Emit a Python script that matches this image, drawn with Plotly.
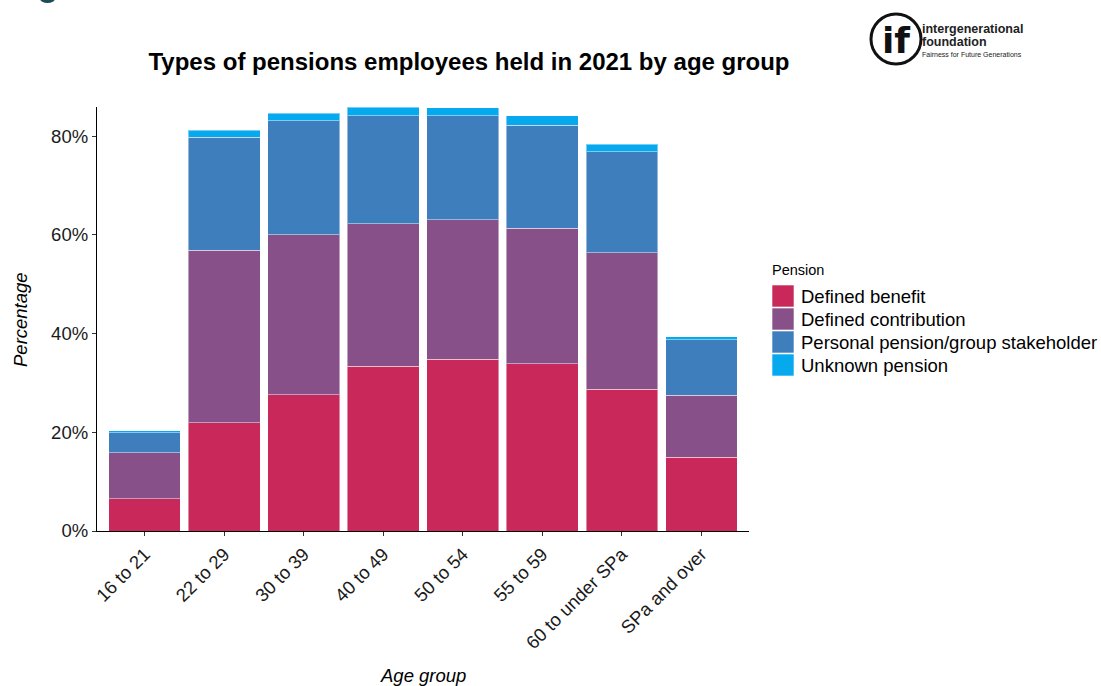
import plotly.graph_objects as go

# Share of employees holding each pension type, 2021 (%)
age_groups = ["16 to 21", "22 to 29", "30 to 39", "40 to 49",
              "50 to 54", "55 to 59", "60 to under SPa", "SPa and over"]
defined_benefit = [6.5, 21.9, 27.6, 33.4, 34.8, 33.9, 28.7, 14.9]
defined_contribution = [9.4, 35.0, 32.4, 28.8, 28.3, 27.4, 27.7, 12.6]
personal_pension = [4.0, 22.9, 23.1, 21.9, 21.0, 20.9, 20.4, 11.2]
unknown_pension = [0.4, 1.4, 1.5, 1.8, 1.6, 1.9, 1.6, 0.7]

series_names = ["Defined benefit", "Defined contribution",
                "Personal pension/group stakeholder", "Unknown pension"]
series_values = [defined_benefit, defined_contribution, personal_pension, unknown_pension]
series_colors = ["#C8285A", "#885089", "#3E7EBD", "#06A8EE"]

y_ticks = [0, 20, 40, 60, 80]
y_tick_text = [f"{v}%" for v in y_ticks]

FONT = "Liberation Sans, Arial, sans-serif"

# plot area in pixels
L, R, T, B = 97, 749, 107, 531
PW, PH = R - L, B - T


def px(x):
    return (x - L) / PW


def py(y):
    return 1 - (y - T) / PH


fig = go.Figure()
for name, vals, col in zip(series_names, series_values, series_colors):
    fig.add_trace(go.Bar(
        x=age_groups, y=vals, name=name,
        marker=dict(color=col, line=dict(color="rgba(255,255,255,0.45)", width=1)),
        showlegend=False,
    ))

top = max(sum(v) for v in zip(*series_values))

fig.update_layout(
    barmode="stack",
    bargap=0.1,
    width=1101, height=686,
    margin=dict(l=L, r=1101 - R, t=T, b=686 - B),
    paper_bgcolor="white", plot_bgcolor="white",
    font=dict(family=FONT, color="black", size=18.5),
    title=dict(text="<b>Types of pensions employees held in 2021 by age group</b>",
               x=469 / 1101, xanchor="center", y=1 - 62 / 686, yanchor="middle",
               font=dict(size=24, color="black", family=FONT)),
    xaxis=dict(
        range=[-0.6, 7.6], showgrid=False, zeroline=False,
        showline=True, linecolor="black", linewidth=1.3,
        ticks="outside", ticklen=4, tickcolor="#333333", tickwidth=1.2,
        tickangle=-45, tickfont=dict(size=18.5, color="#1a1a1a"),
    ),
    yaxis=dict(
        range=[0, top], showgrid=False, zeroline=False,
        showline=True, linecolor="black", linewidth=1.3,
        ticks="outside", ticklen=4, tickcolor="#333333", tickwidth=1.2,
        tickmode="array", tickvals=y_ticks, ticktext=y_tick_text,
        tickfont=dict(size=18.5, color="#1a1a1a"),
    ),
)

# Axis titles
fig.add_annotation(xref="paper", yref="paper", x=px(423), y=py(675),
                   text="<i>Age group</i>", showarrow=False,
                   xanchor="center", yanchor="middle", font=dict(size=18.5))
fig.add_annotation(xref="paper", yref="paper", x=px(20), y=py(320),
                   text="<i>Percentage</i>", showarrow=False, textangle=-90,
                   xanchor="center", yanchor="middle", font=dict(size=18.5))

# Legend drawn as keyed swatches to the right of the plot
fig.add_annotation(xref="paper", yref="paper", x=px(770), y=py(270),
                   text="Pension", showarrow=False, xanchor="left", yanchor="middle",
                   font=dict(size=14.5, color="black"))
key_top = 285
for i, (name, col) in enumerate(zip(series_names, series_colors)):
    y0 = key_top + i * 23
    fig.add_shape(type="rect", xref="paper", yref="paper",
                  x0=px(772), x1=px(794), y0=py(y0), y1=py(y0 + 22),
                  fillcolor=col, line=dict(color="rgba(255,255,255,0.6)", width=1))
    fig.add_annotation(xref="paper", yref="paper", x=px(799), y=py(y0 + 11),
                       text=name, showarrow=False,
                       xanchor="left", yanchor="middle",
                       font=dict(size=18.5, color="black"))

# Intergenerational Foundation logo
cx, cy, r = 896, 39, 25
fig.add_shape(type="circle", xref="paper", yref="paper",
              x0=px(cx - r), x1=px(cx + r), y0=py(cy + r), y1=py(cy - r),
              line=dict(color="#111111", width=3), fillcolor="white")
fig.add_annotation(xref="paper", yref="paper", x=px(cx), y=py(cy + 1),
                   text="<b>if</b>", showarrow=False, xanchor="center", yanchor="middle",
                   font=dict(size=36, color="#111111", family="DejaVu Sans"))
for txt, ty, sz, bold in [("intergenerational", 29, 12.5, True),
                          ("foundation", 42, 12.5, True),
                          ("Fairness for Future Generations", 55, 7, False)]:
    fig.add_annotation(xref="paper", yref="paper", x=px(920), y=py(ty),
                       text=f"<b>{txt}</b>" if bold else txt, showarrow=False,
                       xanchor="left", yanchor="middle",
                       font=dict(size=sz, color="#222222", family=FONT))

# Small teal mark at the top-left edge
fig.add_shape(type="circle", xref="paper", yref="paper",
              x0=px(40), x1=px(55), y0=py(3), y1=py(-6),
              line=dict(width=0), fillcolor="#1E4D59")

fig.write_html("out.html")
